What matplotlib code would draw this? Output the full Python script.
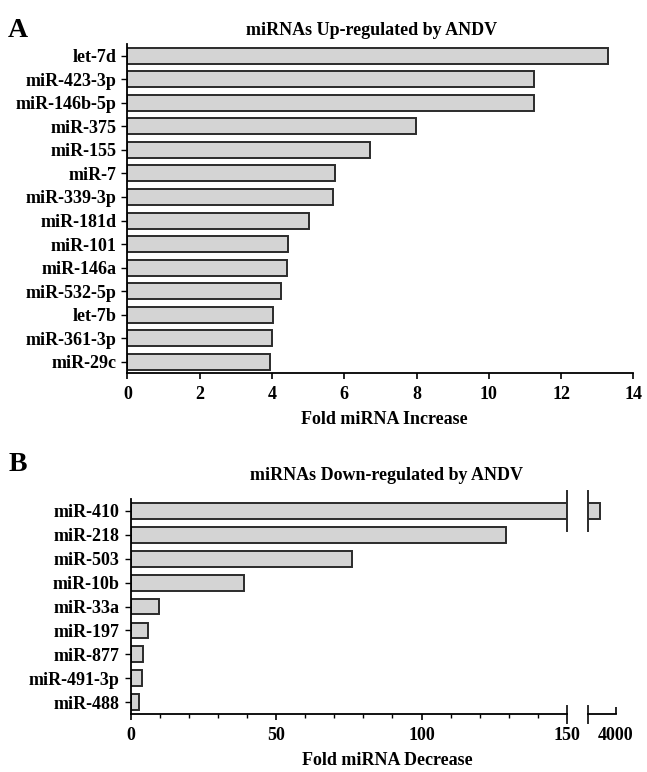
import matplotlib
matplotlib.use("Agg")
import matplotlib.pyplot as plt

plt.rcParams['font.family'] = ['Liberation Serif', 'DejaVu Serif']
plt.rcParams['font.weight'] = 'bold'

# panel A: up-regulated
up_names = ['let-7d', 'miR-423-3p', 'miR-146b-5p', 'miR-375', 'miR-155', 'miR-7',
            'miR-339-3p', 'miR-181d', 'miR-101', 'miR-146a', 'miR-532-5p', 'let-7b',
            'miR-361-3p', 'miR-29c']
up_vals = [13.3, 11.25, 11.25, 7.98, 6.7, 5.75, 5.7, 5.02, 4.45, 4.41, 4.24, 4.03, 3.99, 3.96]
up_ticks = [0, 2, 4, 6, 8, 10, 12, 14]

# panel B: down-regulated (first value beyond the axis break)
down_names = ['miR-410', 'miR-218', 'miR-503', 'miR-10b', 'miR-33a', 'miR-197',
              'miR-877', 'miR-491-3p', 'miR-488']
down_vals = [3430, 129, 76, 38.8, 9.8, 5.8, 4.2, 4.0, 3.0]
down_ticks = [0, 50, 100, 150]
break_lo, break_hi = 150, 3000

bar_fc = '#d4d4d4'
bar_ec = '#2b2b2b'
fs = 13

fig = plt.figure(figsize=(6.47, 7.72), dpi=100)

# ---------- A ----------
axA = fig.add_axes([0.1968, 0.5162, 0.7822, 0.4268])
ypos = list(range(len(up_names)))
axA.barh(ypos, up_vals, height=0.68, color=bar_fc, edgecolor=bar_ec, linewidth=1.4)
axA.set_ylim(len(up_names) - 0.5, -0.5)
axA.set_xlim(0, 14)
axA.set_xticks(up_ticks)
axA.set_yticks(ypos)
axA.set_yticklabels(up_names)
for s in ['top', 'right']:
    axA.spines[s].set_visible(False)
for s in ['left', 'bottom']:
    axA.spines[s].set_linewidth(1.3)
axA.tick_params(axis='x', length=4, width=1.2, pad=5, labelsize=fs)
axA.tick_params(axis='y', length=4, width=1.0, pad=4, labelsize=fs)

fig.text(0.574, 0.961, 'miRNAs Up-regulated by ANDV', ha='center', va='center', fontsize=13)
fig.text(0.028, 0.961, 'A', ha='center', va='center', fontsize=20)
fig.text(0.594, 0.456, 'Fold miRNA Increase', ha='center', va='center', fontsize=fs)

# ---------- B ----------
axB = fig.add_axes([0.2020, 0.0751, 0.6744, 0.2785])
axB2 = fig.add_axes([0.9088, 0.0751, 0.0433, 0.2785])
ypos2 = list(range(len(down_names)))
left_vals = [min(v, break_lo) for v in down_vals]
axB.barh(ypos2, left_vals, height=0.66, color=bar_fc, edgecolor=bar_ec, linewidth=1.4)
right_vals = [v if v > break_lo else 0 for v in down_vals]
axB2.barh(ypos2, right_vals, height=0.66, color=bar_fc, edgecolor=bar_ec, linewidth=1.4)

for ax in (axB, axB2):
    ax.set_ylim(len(down_names) - 0.5, -0.5)
    for s in ['top', 'right']:
        ax.spines[s].set_visible(False)
    ax.spines['bottom'].set_linewidth(1.3)
    ax.tick_params(axis='x', length=4, width=1.2, pad=5, labelsize=fs)

axB.set_xlim(0, break_lo)
axB.set_xticks(down_ticks)
axB.set_xticks(range(0, 150, 10), minor=True)
axB.tick_params(axis='x', which='minor', length=3, width=1.0)
axB.set_yticks(ypos2)
axB.set_yticklabels(down_names)
axB.spines['left'].set_linewidth(1.3)
axB.tick_params(axis='y', length=4, width=1.0, pad=4, labelsize=fs)

axB2.set_xlim(break_hi, 4000)
axB2.set_xticks([4000])
axB2.tick_params(axis='x', direction='in', length=5, pad=9)
axB2.spines['left'].set_visible(False)
axB2.set_yticks([])
axB2.patch.set_alpha(0)

# break marks on the bar row and on the axis
axB.plot([break_lo, break_lo], [-0.85, 0.85], color=bar_ec, lw=1.4, clip_on=False)
axB2.plot([break_hi, break_hi], [-0.85, 0.85], color=bar_ec, lw=1.4, clip_on=False)
yb = len(down_names) - 0.5
axB.plot([break_lo, break_lo], [yb - 0.33, yb + 0.36], color=bar_ec, lw=1.4, clip_on=False)
axB2.plot([break_hi, break_hi], [yb - 0.33, yb + 0.36], color=bar_ec, lw=1.4, clip_on=False)

fig.text(0.597, 0.384, 'miRNAs Down-regulated by ANDV', ha='center', va='center', fontsize=13)
fig.text(0.028, 0.398, 'B', ha='center', va='center', fontsize=20)
fig.text(0.598, 0.015, 'Fold miRNA Decrease', ha='center', va='center', fontsize=fs)

fig.savefig('out.png', dpi=100)
